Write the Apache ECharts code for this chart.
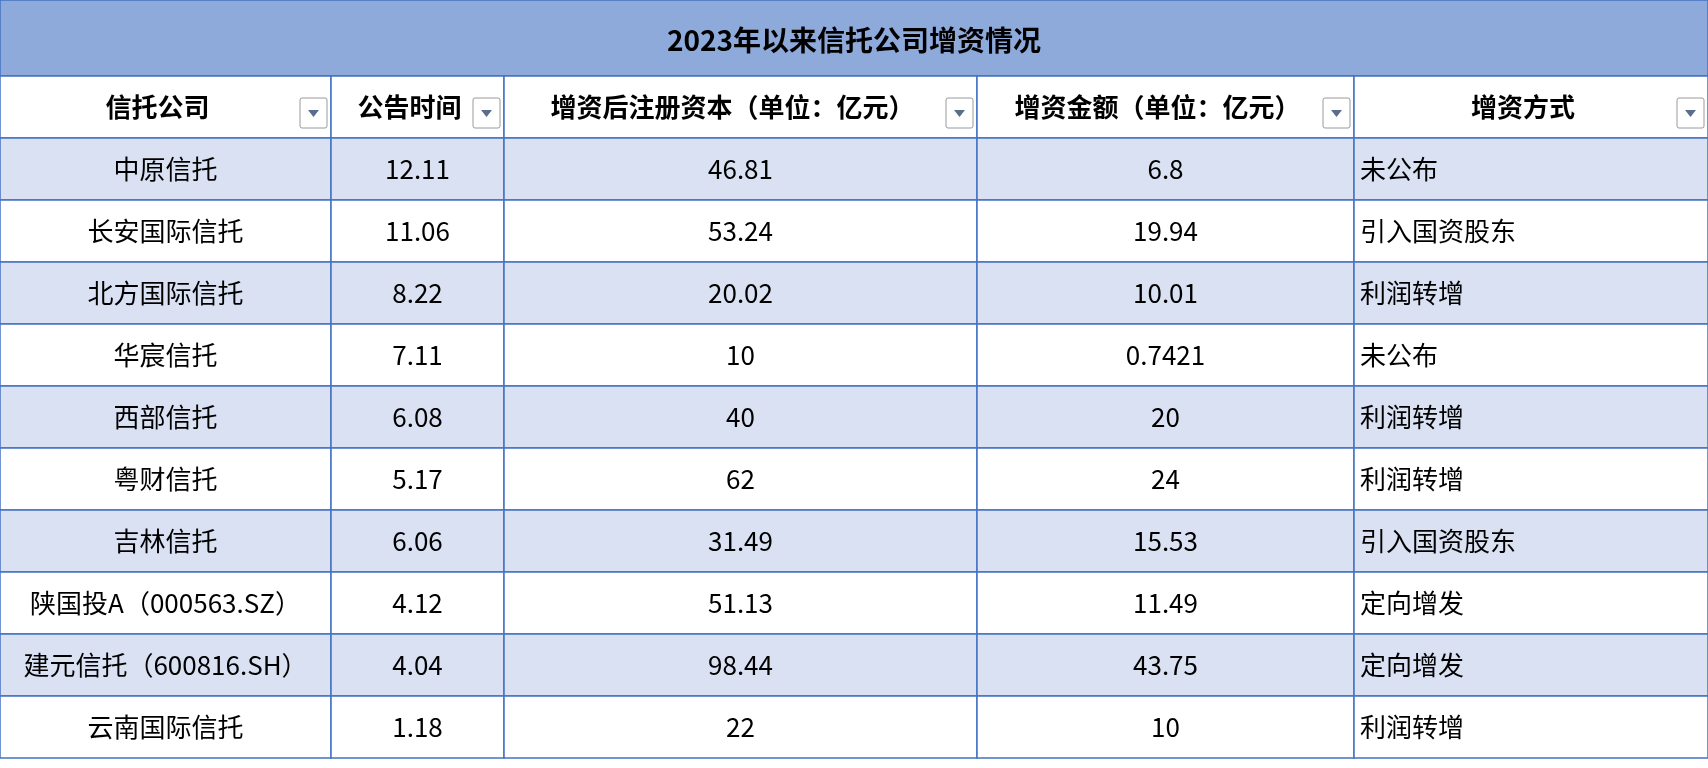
<!DOCTYPE html>
<html><head><meta charset="utf-8">
<script src="https://cdn.jsdelivr.net/npm/echarts@6/dist/echarts.min.js"></script>
<style>html,body{margin:0;padding:0;background:#fff}#c{width:1708px;height:768px}</style>
</head><body><div id="c"></div>
<script>
const title = '2023年以来信托公司增资情况';
const headers = ['信托公司','公告时间','增资后注册资本（单位：亿元）','增资金额（单位：亿元）','增资方式'];
const companies = ['中原信托','长安国际信托','北方国际信托','华宸信托','西部信托','粤财信托','吉林信托','陕国投A（000563.SZ）','建元信托（600816.SH）','云南国际信托'];
const dates = ['12.11','11.06','8.22','7.11','6.08','5.17','6.06','4.12','4.04','1.18'];
const capitalAfter = ['46.81','53.24','20.02','10','40','62','31.49','51.13','98.44','22'];
const increase = ['6.8','19.94','10.01','0.7421','20','24','15.53','11.49','43.75','10'];
const methods = ['未公布','引入国资股东','利润转增','未公布','利润转增','利润转增','引入国资股东','定向增发','定向增发','利润转增'];

// layout (pixel units of the value axes)
const colEdges = [0,331,504,977,1354,1708];
const titleH = 76, headH = 62, rowH = 62;
const border = '#4472C4', font = '"Noto Sans CJK SC", "Noto Sans", sans-serif';

const cells = [];
headers.forEach((h,c)=>cells.push([c,-1,h]));
const cols = [companies,dates,capitalAfter,increase,methods];
for(let r=0;r<companies.length;r++) for(let c=0;c<5;c++) cells.push([c,r,cols[c][r]]);

function rowTop(r){return r<0?titleH:titleH+headH+r*rowH;}
function render(params, api){
  const c=api.value(0), r=api.value(1), txt=cells[params.dataIndex][2];
  const y0=rowTop(r), y1=y0+(r<0?headH:rowH);
  const p0=api.coord([colEdges[c],y0]), p1=api.coord([colEdges[c+1],y1]);
  const w=p1[0]-p0[0], h=p1[1]-p0[1];
  const bg = r>=0 && r%2===0 ? '#D9E1F2' : '#FFFFFF';
  const children=[{type:'rect',shape:{x:p0[0],y:p0[1],width:w,height:h},style:{fill:bg,stroke:border,lineWidth:1.5}}];
  const left = c===4 && r>=0;
  children.push({type:'text',style:{text:txt,x:left?p0[0]+6:p0[0]+w/2-(r<0?8:0),y:p0[1]+h/2,
    align:left?'left':'center',verticalAlign:'middle',fill:'#000',
    font:(r<0?'bold ':'')+'26px '+font}});
  if(r<0){
    const bx=p1[0]-31, by=p0[1]+22;
    children.push({type:'rect',shape:{x:bx,y:by,width:27,height:30,r:2},style:{fill:'#fff',stroke:'#9a9a9a',lineWidth:1}});
    children.push({type:'polygon',shape:{points:[[bx+8,by+12],[bx+19,by+12],[bx+13.5,by+19]]},style:{fill:'#5a6e8c'}});
  }
  return {type:'group',children};
}
const chart=echarts.init(document.getElementById('c'));
chart.setOption({
  animation:false,
  grid:{left:0,right:0,top:0,bottom:0},
  xAxis:{type:'value',min:0,max:1708,show:false},
  yAxis:{type:'value',min:0,max:768,inverse:true,show:false},
  graphic:[
    {type:'rect',shape:{x:0,y:0,width:1708,height:titleH},style:{fill:'#8EAADB',stroke:border,lineWidth:1.5}},
    {type:'text',style:{text:title,x:854,y:titleH/2+2,align:'center',verticalAlign:'middle',font:'bold 28px '+font,fill:'#000'}}
  ],
  series:[{type:'custom',renderItem:render,data:cells.map(d=>[d[0],d[1]]),clip:false}]
});
</script></body></html>
